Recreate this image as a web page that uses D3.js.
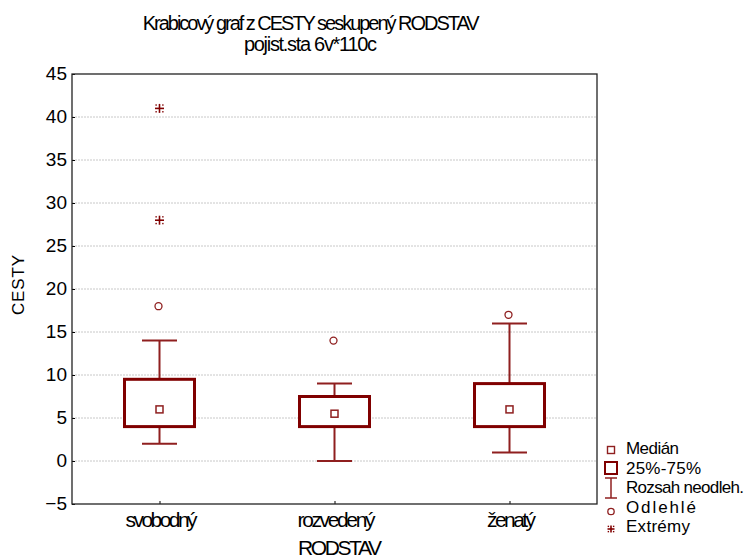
<!DOCTYPE html>
<html>
<head>
<meta charset="utf-8">
<script src="https://cdn.jsdelivr.net/npm/d3@7"></script>
<style>
  html, body { margin: 0; padding: 0; background: #fff; }
  svg { display: block; font-family: "Liberation Sans", Arial, sans-serif; }
</style>
</head>
<body>
<svg id="chart" width="746" height="560"></svg>
<script>
// ---- data ----
const categories = ["svobodný", "rozvedený", "ženatý"];
const medians = [6, 5.5, 6];
const q1 = [4, 4, 4];
const q3 = [9.5, 7.5, 9];
const whiskerLow = [2, 0, 1];
const whiskerHigh = [14, 9, 16];
const outliers = [[18], [14], [17]];
const extremes = [[41, 28], [], []];
const yTicks = [-5, 0, 5, 10, 15, 20, 25, 30, 35, 40, 45];
const legendLabels = ["Medián", "25%-75%", "Rozsah neodleh.", "Odlehlé", "Extrémy"];
const titleLines = ["Krabicový graf z CESTY seskupený RODSTAV", "pojist.sta 6v*110c"];
const xTitle = "RODSTAV";
const yTitle = "CESTY";

// ---- layout ----
const L = 72, R = 597, T = 74, B = 504;
const boxColor = "#800000";
const whiskColor = "#8f1f1f";

const svg = d3.select("#chart");
const y = d3.scaleLinear().domain([-5, 45]).range([B, T]);
const x = d3.scalePoint().domain(categories).range([L, R]).padding(0.5);

// gridlines
svg.append("g").selectAll("line")
  .data(yTicks.filter(v => v > -5 && v < 45))
  .join("line")
  .attr("x1", L).attr("x2", R)
  .attr("y1", d => y(d)).attr("y2", d => y(d))
  .attr("stroke", "#c8c8c8").attr("stroke-width", 1)
  .attr("stroke-dasharray", "2,1");

// y axis
const yAxis = d3.axisLeft(y).tickValues(yTicks).tickSize(-3).tickPadding(6);
const gy = svg.append("g").attr("transform", `translate(${L},0)`).call(yAxis);
gy.select(".domain").remove();
gy.selectAll(".tick line").attr("stroke", "#000");
gy.selectAll(".tick text")
  .attr("font-size", 19).attr("fill", "#000")
  .attr("font-family", "Liberation Sans, Arial, sans-serif")
  .attr("x", -5).attr("dy", "0.3em");

// x axis
const xAxis = d3.axisBottom(x).tickSize(-3).tickFormat("");
const gx = svg.append("g").attr("transform", `translate(0,${B})`).call(xAxis);
gx.select(".domain").remove();
gx.selectAll(".tick line").attr("stroke", "#000");

// category labels
const xLabelWidths = [72, 78, 49];
svg.append("g").selectAll("text")
  .data(categories)
  .join("text")
  .attr("x", (d, i) => x(d) + 2 - xLabelWidths[i] / 2)
  .attr("y", 527)
  .attr("font-size", 21)
  .attr("textLength", (d, i) => xLabelWidths[i])
  .attr("lengthAdjust", "spacing")
  .text(d => d);

// frame
svg.append("rect")
  .attr("x", L).attr("y", T).attr("width", R - L).attr("height", B - T)
  .attr("fill", "none").attr("stroke", "#222").attr("stroke-width", 1.3);

// boxes
const boxW = 70, capW = 35;
const g = svg.append("g");
categories.forEach((c, i) => {
  const cx = x(c);
  g.append("line").attr("x1", cx).attr("x2", cx)
    .attr("y1", y(q3[i])).attr("y2", y(whiskerHigh[i]))
    .attr("stroke", whiskColor).attr("stroke-width", 2);
  g.append("line").attr("x1", cx).attr("x2", cx)
    .attr("y1", y(q1[i])).attr("y2", y(whiskerLow[i]))
    .attr("stroke", whiskColor).attr("stroke-width", 2);
  [whiskerHigh[i], whiskerLow[i]].forEach(v => {
    g.append("line").attr("x1", cx - capW / 2).attr("x2", cx + capW / 2)
      .attr("y1", y(v)).attr("y2", y(v))
      .attr("stroke", whiskColor).attr("stroke-width", 2);
  });
  g.append("rect")
    .attr("x", cx - boxW / 2).attr("y", y(q3[i]))
    .attr("width", boxW).attr("height", y(q1[i]) - y(q3[i]))
    .attr("fill", "#fff").attr("stroke", boxColor).attr("stroke-width", 3);
  g.append("rect")
    .attr("x", cx - 3.5).attr("y", y(medians[i]) - 3.5)
    .attr("width", 7).attr("height", 7)
    .attr("fill", "#fff").attr("stroke", whiskColor).attr("stroke-width", 1.5);
  outliers[i].forEach(v => {
    g.append("circle").attr("cx", cx - 1).attr("cy", y(v)).attr("r", 3.5)
      .attr("fill", "none").attr("stroke", whiskColor).attr("stroke-width", 1.3);
  });
  extremes[i].forEach(v => drawExtreme(g, cx, y(v), 4.5));
});

function drawExtreme(sel, cx, cy, s) {
  const e = sel.append("g").attr("transform", `translate(${cx},${cy})`);
  e.append("line").attr("x1", -s).attr("x2", s).attr("y1", 0).attr("y2", 0)
    .attr("stroke", boxColor).attr("stroke-width", 1.6);
  e.append("line").attr("x1", 0).attr("x2", 0).attr("y1", -s).attr("y2", s)
    .attr("stroke", boxColor).attr("stroke-width", 1.6);
  [[-1, -1], [1, -1], [-1, 1], [1, 1]].forEach(([a, b]) => {
    e.append("rect").attr("x", a * s * 0.75 - 0.7).attr("y", b * s * 0.75 - 0.7)
      .attr("width", 1.4).attr("height", 1.4).attr("fill", boxColor);
  });
}

// titles
const titleX = [142.7, 244], titleW = [337, 133], titleY = [29.5, 51];
titleLines.forEach((t, i) => {
  svg.append("text")
    .attr("x", titleX[i]).attr("y", titleY[i])
    .attr("font-size", 20)
    .attr("textLength", titleW[i]).attr("lengthAdjust", "spacing")
    .text(t);
});

// axis titles
svg.append("text")
  .attr("x", 298).attr("y", 555)
  .attr("font-size", 21)
  .attr("textLength", 84).attr("lengthAdjust", "spacing")
  .text(xTitle);
svg.append("text")
  .attr("transform", "translate(24,315) rotate(-90)")
  .attr("x", 0).attr("y", 0)
  .attr("font-size", 17)
  .attr("textLength", 60).attr("lengthAdjust", "spacing")
  .text(yTitle);

// legend
const legX = 611, legTextX = 626;
const legBase = [455, 474.5, 494, 513.5, 533];
const legW = [53, 75, 118, 70, 64];
const lg = svg.append("g");
legendLabels.forEach((t, i) => {
  lg.append("text").attr("x", legTextX).attr("y", legBase[i] - 1)
    .attr("font-size", 17)
    .attr("textLength", legW[i]).attr("lengthAdjust", "spacing")
    .text(t);
});
lg.append("rect").attr("x", legX - 3.5).attr("y", 446.5).attr("width", 7).attr("height", 7)
  .attr("fill", "#fff").attr("stroke", whiskColor).attr("stroke-width", 1.4);
lg.append("rect").attr("x", legX - 6).attr("y", 462).attr("width", 12).attr("height", 12)
  .attr("fill", "#fff").attr("stroke", boxColor).attr("stroke-width", 2);
lg.append("line").attr("x1", legX).attr("x2", legX).attr("y1", 478).attr("y2", 498)
  .attr("stroke", whiskColor).attr("stroke-width", 1.5);
[478, 498].forEach(v => lg.append("line").attr("x1", legX - 6).attr("x2", legX + 6)
  .attr("y1", v).attr("y2", v).attr("stroke", whiskColor).attr("stroke-width", 1.5));
lg.append("circle").attr("cx", legX).attr("cy", 511.5).attr("r", 3.2)
  .attr("fill", "none").attr("stroke", whiskColor).attr("stroke-width", 1.3);
drawExtreme(lg, legX, 529, 3.5);
</script>
</body>
</html>
